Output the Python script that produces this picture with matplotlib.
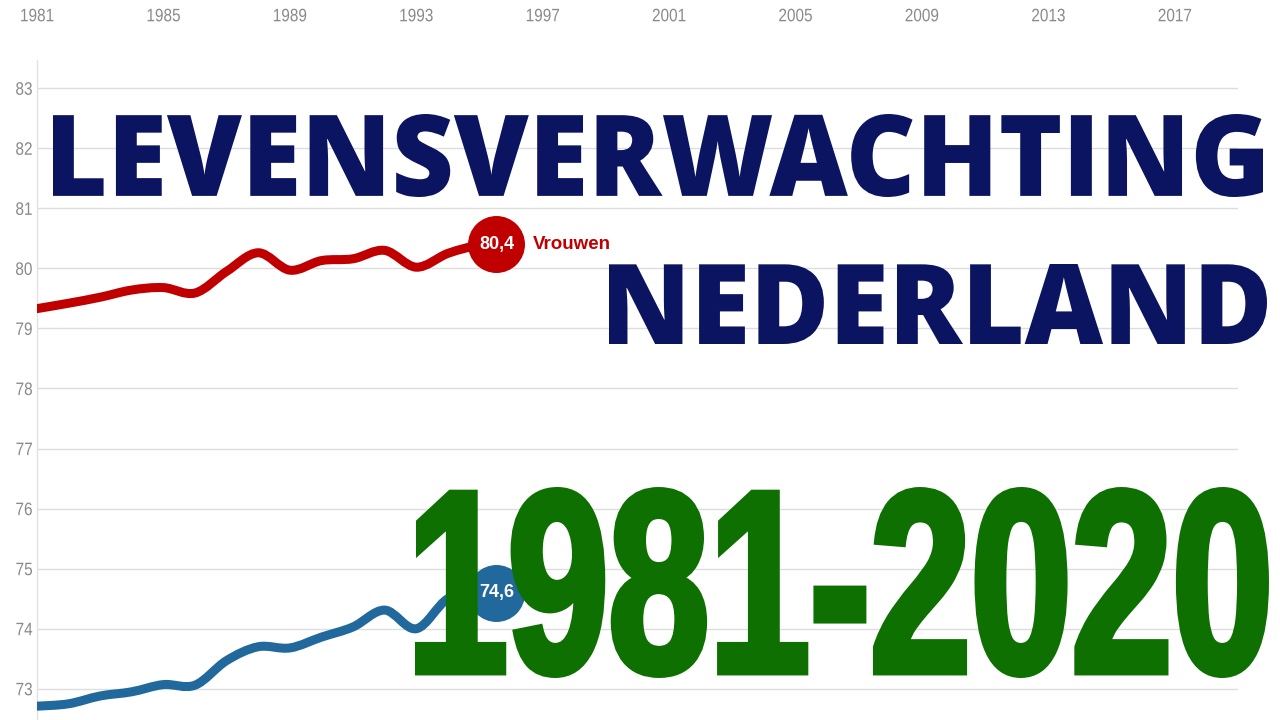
import matplotlib
matplotlib.use("Agg")
import matplotlib.pyplot as plt
from matplotlib.path import Path
from matplotlib.patches import PathPatch
from matplotlib.patheffects import AbstractPathEffect
from matplotlib.transforms import Affine2D, offset_copy

# levensverwachting bij geboorte (animation stops at 1995)
years = list(range(1981, 1996))
vrouwen = [79.33, 79.42, 79.52, 79.64, 79.68, 79.59, 79.95, 80.26, 79.97,
           80.13, 80.16, 80.30, 80.02, 80.25, 80.40]
mannen = [72.71, 72.75, 72.88, 72.95, 73.07, 73.06, 73.47, 73.70, 73.68,
          73.86, 74.03, 74.31, 74.00, 74.50, 74.60]
series_names = ["Vrouwen", "Mannen"]
end_labels = ["80,4", "74,6"]
x_ticks = list(range(1981, 2018, 4))
y_ticks = list(range(73, 84))

red = "#c00000"
blue = "#21699c"
navy = "#0b1461"
green = "#0d7000"
grey = "#8a8a8a"

W, H = 1280, 720


class FitBox(AbstractPathEffect):
    """draw the text glyphs stretched into a box (left, top, right, bottom) in image px"""

    def __init__(self, box, stroke=0.0, join="miter"):
        super().__init__()
        self.box = box
        self.stroke = stroke
        self.join = join

    def draw_path(self, renderer, gc, tpath, affine, rgbFace=None):
        l, t, r, b = self.box
        s = self.stroke / 2
        ext = tpath.get_extents(affine)
        fit = (Affine2D().translate(-ext.x0, -ext.y0)
               .scale((r - l - 2 * s) / ext.width, (b - t - 2 * s) / ext.height)
               .translate(l + s, renderer.height - b + s))
        gc0 = renderer.new_gc()
        gc0.copy_properties(gc)
        if self.stroke:
            gc0.set_linewidth(self.stroke * 72 / renderer.dpi)
            gc0.set_foreground(rgbFace)
            gc0.set_joinstyle(self.join)
        renderer.draw_path(gc0, tpath, affine + fit, rgbFace)
        gc0.restore()


class Squeeze(AbstractPathEffect):
    """narrow the glyphs around their own centre"""

    def __init__(self, sx):
        super().__init__()
        self.sx = sx

    def draw_path(self, renderer, gc, tpath, affine, rgbFace=None):
        ext = tpath.get_extents(affine)
        cx = (ext.x0 + ext.x1) / 2
        a = affine + Affine2D().translate(-cx, 0).scale(self.sx, 1).translate(cx, 0)
        renderer.draw_path(gc, tpath, a, rgbFace)


def smooth_path(xs, ys):
    # catmull-rom through the data points, drawn as bezier segments
    verts = [(xs[0], ys[0])]
    codes = [Path.MOVETO]
    n = len(xs)
    for i in range(n - 1):
        x0, y0 = (xs[i - 1], ys[i - 1]) if i > 0 else (xs[i], ys[i])
        x1, y1 = xs[i], ys[i]
        x2, y2 = xs[i + 1], ys[i + 1]
        x3, y3 = (xs[i + 2], ys[i + 2]) if i + 2 < n else (x2, y2)
        verts += [(x1 + (x2 - x0) / 6, y1 + (y2 - y0) / 6),
                  (x2 - (x3 - x1) / 6, y2 - (y3 - y1) / 6),
                  (x2, y2)]
        codes += [Path.CURVE4] * 3
    return Path(verts, codes)


fig = plt.figure(figsize=(12.8, 7.2), dpi=100)
fig.patch.set_facecolor("white")
ax = fig.add_axes([37 / W, 0, 1201 / W, 660 / H])
ax.set_xlim(1981, 2019)
ax.set_ylim(72.48, 83.47)

tick_font = ["Liberation Sans", "DejaVu Sans"]
ax.set_xticks(x_ticks)
ax.set_yticks(y_ticks)
ax.xaxis.tick_top()
ax.tick_params(axis="x", length=0, pad=25, labelsize=13, labelcolor=grey)
ax.tick_params(axis="y", length=0, pad=2.2, labelsize=13, labelcolor=grey)
for lab in ax.get_xticklabels() + ax.get_yticklabels():
    lab.set_family(tick_font)
    lab.set_path_effects([Squeeze(0.85)])
ax.grid(axis="y", color="#dddddd", lw=1)
ax.grid(axis="x", visible=False)
for s in ["top", "right", "bottom"]:
    ax.spines[s].set_visible(False)
ax.spines["left"].set_color("#e2e2e2")
ax.spines["left"].set_linewidth(1)

label_font = ["Liberation Sans", "DejaVu Sans"]
shifted = offset_copy(ax.transData, fig=fig, x=17, y=0, units="dots")
name_tr = offset_copy(ax.transData, fig=fig, x=53, y=0, units="dots")
for vals, col, name, lab in zip([vrouwen, mannen], [red, blue], series_names, end_labels):
    ax.add_patch(PathPatch(smooth_path(years, vals), fill=False, edgecolor=col,
                           lw=6.5, capstyle="round", joinstyle="round", zorder=3))
    ax.plot([years[-1]], [vals[-1]], "o", ms=40, color=col, mec=col,
            transform=shifted, zorder=4, clip_on=False)
    ax.text(years[-1], vals[-1], lab, transform=shifted, ha="center", va="center",
            color="white", fontsize=13, fontweight="bold", family=label_font, zorder=5)
    ax.text(years[-1], vals[-1], name, transform=name_tr, ha="left", va="center",
            color=col, fontsize=13.5, fontweight="bold", family=label_font, zorder=5)


def big_text(s, box, color, family, size, stroke, weight="bold"):
    l, t, r, b = box
    fig.text(l / W, 1 - b / H, s, color=color, ha="left", va="baseline",
             fontsize=size, fontweight=weight, family=family, zorder=10,
             path_effects=[FitBox(box, stroke)])


title_font = ["Open Sans", "DejaVu Sans"]
big_text("LEVENSVERWACHTING", (53, 114, 1263, 197), navy, title_font, 60, 0, 800)
big_text("NEDERLAND", (609, 264, 1267, 344), navy, title_font, 60, 0, 800)
big_text("1981-2020", (415, 487, 1269, 678), green,
         ["Liberation Sans", "DejaVu Sans"], 100, 7)

fig.savefig("out.png", dpi=100, facecolor="white")
